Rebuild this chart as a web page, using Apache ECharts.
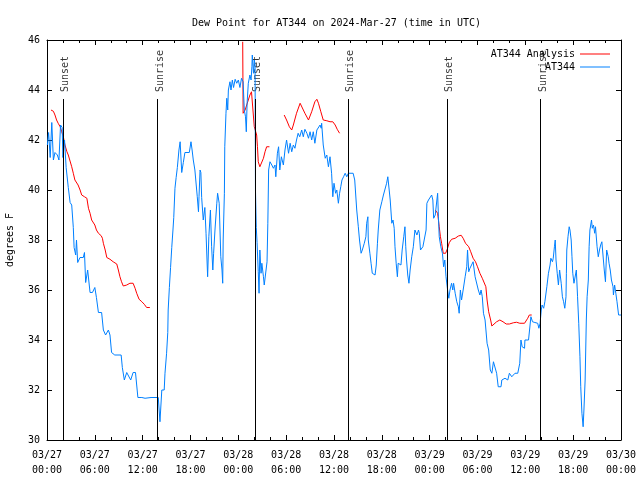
<!DOCTYPE html>
<html><head><meta charset="utf-8">
<script src="https://cdn.jsdelivr.net/npm/echarts@6/dist/echarts.min.js"></script>
<style>html,body{margin:0;padding:0;background:#fff}#c{width:640px;height:480px}</style>
</head><body><div id="c"></div>
<script>
// hours since 2024-03-27 00:00 UTC
var xTickLabels = ['03/27\n00:00','03/27\n06:00','03/27\n12:00','03/27\n18:00','03/28\n00:00','03/28\n06:00','03/28\n12:00','03/28\n18:00','03/29\n00:00','03/29\n06:00','03/29\n12:00','03/29\n18:00','03/30\n00:00'];
var sunNames = ['Sunset','Sunrise','Sunset','Sunrise','Sunset','Sunrise'];
var sunHours = [2.05, 13.85, 26.1, 37.8, 50.2, 61.9];

var at344 = [[0.05,41.8],[0.2,42.3],[0.4,41.3],[0.6,42.7],[0.8,41.2],[1.0,41.5],[1.3,41.4],[1.5,41.2],[1.7,42.6],[1.9,42.5],[2.0,41.3],[2.2,42.0],[2.4,40.9],[2.67,40.1],[2.9,39.5],[3.1,39.4],[3.3,38.5],[3.4,37.7],[3.6,37.4],[3.7,38.0],[3.85,37.1],[4.14,37.3],[4.55,37.3],[4.7,37.5],[4.85,36.3],[5.1,36.8],[5.4,35.9],[5.7,35.9],[6.0,36.1],[6.2,35.7],[6.45,35.1],[6.85,35.1],[7.07,34.4],[7.35,34.2],[7.7,34.4],[7.9,34.2],[8.1,33.5],[8.5,33.4],[9.3,33.4],[9.45,32.9],[9.7,32.4],[10.0,32.7],[10.2,32.7],[10.5,32.4],[10.8,32.7],[11.1,32.7],[11.4,31.7],[11.9,31.7],[12.3,31.67],[13.05,31.7],[13.96,31.7],[14.17,30.73],[14.4,32.0],[14.7,32.0],[14.8,32.67],[15.0,33.47],[15.15,34.3],[15.2,35.2],[15.35,36.1],[15.5,36.9],[15.65,37.7],[15.8,38.4],[15.9,38.9],[16.05,40.07],[16.2,40.5],[16.35,40.9],[16.55,41.6],[16.7,41.93],[16.9,40.7],[17.1,41.1],[17.3,41.5],[17.5,41.5],[17.85,41.5],[18.06,41.93],[18.2,41.6],[18.35,41.2],[18.55,40.8],[18.7,40.75],[18.85,39.73],[19.0,39.13],[19.07,39.73],[19.2,40.8],[19.3,40.7],[19.4,39.7],[19.6,38.8],[19.8,39.3],[19.95,38.27],[20.07,37.2],[20.15,36.53],[20.3,38.13],[20.5,39.2],[20.65,37.73],[20.8,36.8],[20.9,37.47],[21.07,38.4],[21.3,39.47],[21.4,39.87],[21.6,39.47],[21.7,38.4],[21.8,37.33],[21.95,36.8],[22.04,36.27],[22.1,38.0],[22.25,39.87],[22.3,41.73],[22.45,43.07],[22.55,43.67],[22.67,43.2],[22.75,44.0],[22.95,44.33],[23.08,44.0],[23.25,44.4],[23.4,44.1],[23.6,44.43],[23.8,44.27],[24.0,44.4],[24.2,44.1],[24.4,44.47],[24.6,44.33],[24.75,43.2],[24.9,42.93],[25.0,42.33],[25.1,43.47],[25.25,44.27],[25.45,44.6],[25.6,44.4],[25.7,44.93],[25.75,45.4],[25.9,44.67],[26.0,45.2],[26.1,45.0],[26.15,40.0],[26.25,38.5],[26.35,37.9],[26.5,36.73],[26.6,35.87],[26.7,37.6],[26.85,36.67],[26.95,37.07],[27.15,36.53],[27.25,36.2],[27.5,36.27],[27.6,37.13],[27.7,38.67],[27.8,40.8],[27.97,41.13],[28.2,41.0],[28.4,40.87],[28.6,41.0],[28.7,40.53],[28.9,41.47],[29.05,41.73],[29.2,40.8],[29.4,41.33],[29.65,41.0],[29.85,41.6],[30.05,42.0],[30.3,41.47],[30.5,41.87],[30.7,41.53],[30.9,41.8],[31.1,41.67],[31.3,42.0],[31.5,42.27],[31.7,42.13],[31.95,42.4],[32.15,42.13],[32.35,42.43],[32.6,42.27],[32.8,42.07],[33.0,42.33],[33.2,42.0],[33.4,42.33],[33.6,41.87],[33.85,42.4],[34.05,42.47],[34.25,42.6],[34.4,42.47],[34.45,42.67],[34.65,41.8],[34.9,41.27],[35.1,41.4],[35.3,40.93],[35.5,41.33],[35.7,40.67],[35.85,39.73],[36.0,40.27],[36.2,39.87],[36.35,40.0],[36.55,39.47],[36.7,39.87],[36.85,40.13],[37.0,40.4],[37.2,40.53],[37.4,40.67],[37.6,40.53],[37.8,40.67],[38.0,40.7],[38.4,40.67],[38.6,40.4],[38.85,39.2],[39.05,38.53],[39.2,38.0],[39.4,37.47],[39.55,37.6],[39.8,37.87],[40.0,38.13],[40.1,38.67],[40.25,38.93],[40.3,38.0],[40.5,37.47],[40.65,37.07],[40.8,36.67],[41.15,36.6],[41.3,37.0],[41.45,37.87],[41.55,38.4],[41.75,39.2],[42.0,39.53],[42.2,39.8],[42.4,39.87],[42.6,40.27],[42.75,40.53],[42.95,40.53],[43.05,39.6],[43.25,38.67],[43.4,38.8],[43.55,38.47],[43.65,37.73],[43.8,37.07],[43.95,36.53],[44.05,37.07],[44.3,37.13],[44.4,37.0],[44.55,37.6],[44.75,38.13],[44.9,38.53],[45.0,37.73],[45.1,37.2],[45.25,36.6],[45.4,36.27],[45.55,36.8],[45.75,37.33],[45.95,37.73],[46.15,38.4],[46.4,38.2],[46.6,38.4],[46.7,38.27],[46.85,37.6],[47.0,37.53],[47.15,37.73],[47.4,37.73],[47.55,38.4],[47.65,39.47],[47.85,39.6],[48.05,39.67],[48.25,39.8],[48.4,39.6],[48.5,38.87],[48.7,39.0],[48.9,38.93],[49.0,39.87],[49.1,38.93],[49.2,38.13],[49.4,37.73],[49.6,37.47],[49.75,36.93],[49.9,37.2],[50.05,36.53],[50.25,36.0],[50.4,35.67],[50.55,36.0],[50.75,36.27],[50.9,36.0],[51.0,36.27],[51.2,35.87],[51.4,35.53],[51.6,35.33],[51.7,35.07],[51.85,36.0],[52.0,35.6],[52.2,36.0],[52.45,36.53],[52.65,36.93],[52.75,37.6],[52.9,36.73],[53.05,36.87],[53.25,37.0],[53.45,37.13],[53.7,36.53],[53.9,36.6],[54.1,36.0],[54.3,35.8],[54.45,36.0],[54.6,35.73],[54.75,35.07],[54.95,34.8],[55.2,33.87],[55.4,33.6],[55.6,32.8],[55.8,32.67],[56.0,33.13],[56.2,33.13],[56.4,32.67],[56.6,32.13],[56.95,32.13],[57.05,32.4],[57.45,32.47],[57.8,32.4],[58.0,32.67],[58.3,32.53],[58.5,32.47],[58.7,32.67],[59.05,32.67],[59.25,32.67],[59.3,33.07],[59.45,34.0],[59.6,33.73],[59.9,33.67],[59.95,34.0],[60.4,34.0],[60.6,34.0],[60.7,34.93],[60.9,34.73],[61.2,34.7],[61.55,34.67],[61.7,34.47],[61.85,34.67],[62.0,35.2],[62.1,35.4],[62.3,35.27],[62.45,35.53],[62.7,36.13],[62.9,36.67],[63.1,37.0],[63.2,37.27],[63.4,37.13],[63.5,37.27],[63.65,37.73],[63.75,38.0],[63.85,37.2],[64.0,36.67],[64.15,36.2],[64.3,36.8],[64.5,36.27],[64.65,35.73],[64.8,35.53],[64.95,35.27],[65.1,35.73],[65.15,36.67],[65.2,37.6],[65.35,38.13],[65.5,38.53],[65.6,38.4],[65.75,38.0],[65.85,37.33],[65.95,36.67],[66.1,36.27],[66.3,36.33],[66.4,36.8],[66.55,35.73],[66.7,34.67],[66.85,33.33],[66.95,32.13],[67.1,31.07],[67.25,30.53],[67.35,31.2],[67.5,32.4],[67.65,34.8],[67.75,35.73],[67.9,36.4],[68.0,37.73],[68.1,38.4],[68.3,38.8],[68.4,38.47],[68.55,38.6],[68.7,38.27],[68.8,38.53],[69.0,37.73],[69.15,37.33],[69.3,37.6],[69.45,37.8],[69.6,37.93],[69.8,37.93],[69.9,36.8],[70.05,36.33],[70.2,37.6],[70.4,37.33],[70.5,37.07],[70.65,36.8],[70.8,36.4],[71.0,36.13],[71.05,35.8],[71.2,36.2],[71.35,35.87],[71.5,35.53],[71.6,35.47],[71.7,35.0],[72.0,35.0]];

var analysisA = [[0.5,43.2],[0.8,43.15],[1.0,43.0],[1.2,42.8],[1.4,42.67],[1.65,42.53],[1.85,42.33],[2.05,42.13],[2.25,41.8],[2.5,41.53],[2.67,41.4],[2.9,41.33],[3.1,40.93],[3.3,40.67],[3.5,40.4],[3.7,40.33],[3.9,40.2],[4.15,40.0],[4.35,39.8],[4.7,39.73],[5.0,39.67],[5.2,39.27],[5.4,39.07],[5.6,38.8],[5.8,38.73],[6.0,38.6],[6.2,38.4],[6.45,38.27],[6.8,38.17],[6.95,38.07],[7.07,37.87],[7.3,37.6],[7.5,37.3],[7.9,37.23],[8.3,37.13],[8.75,37.04],[8.95,36.8],[9.15,36.53],[9.35,36.33],[9.57,36.16],[10.0,36.2],[10.4,36.27],[10.8,36.27],[11.05,36.07],[11.25,35.87],[11.55,35.63],[11.9,35.53],[12.2,35.43],[12.5,35.3],[12.9,35.3]];
var analysisB = [[24.55,45.93],[24.6,43.07],[24.85,43.2],[25.05,43.27],[25.25,43.6],[25.45,43.8],[25.65,43.93],[25.85,43.93],[26.0,42.53],[26.3,42.2],[26.4,41.73],[26.5,41.13],[26.7,40.93],[26.9,40.93],[27.15,41.27],[27.35,41.53],[27.55,41.73],[27.9,41.73]];
var analysisC = [[29.75,43.0],[30.05,42.8],[30.4,42.53],[30.7,42.4],[30.9,42.6],[31.3,43.07],[31.75,43.47],[31.95,43.4],[32.35,43.07],[32.8,42.8],[33.2,43.13],[33.6,43.53],[33.85,43.63],[34.05,43.47],[34.35,43.13],[34.65,42.8],[35.1,42.77],[35.5,42.73],[35.85,42.73],[36.15,42.6],[36.4,42.43],[36.7,42.27]];
var analysisD = [[48.7,39.2],[49.0,39.07],[49.2,38.53],[49.35,38.13],[49.5,37.87],[49.7,37.47],[50.0,37.47],[50.25,37.67],[50.45,37.89],[50.75,38.03],[51.2,38.07],[51.6,38.16],[51.95,38.19],[52.2,38.07],[52.5,37.87],[52.9,37.73],[53.15,37.53],[53.45,37.27],[53.75,37.13],[54.0,36.93],[54.3,36.67],[54.6,36.47],[54.85,36.4],[55.05,36.13],[55.2,35.6],[55.4,35.13],[55.65,34.8],[55.8,34.56],[56.0,34.56],[56.4,34.73],[56.8,34.8],[57.2,34.73],[57.6,34.64],[58.0,34.64],[58.5,34.69],[58.9,34.71],[59.3,34.67],[59.9,34.67],[60.05,34.7],[60.3,34.87],[60.5,35.0],[60.8,35.0]];

var FONT = 'DejaVu Sans Mono';
var yMin = 30, yMax = 46, sunLineTop = 43.64, sunLabelAt = 43.9;

// join the analysis segments with gap markers so the line breaks between them
var analysis = analysisA.concat([[13, '-']], analysisB, [[28, '-']], analysisC, [[40, '-']], analysisD);

var sunLines = sunHours.map(function (h) { return [{ coord: [h, sunLineTop] }, { coord: [h, yMin] }]; });
var sunLabels = sunHours.map(function (h, i) { return { name: sunNames[i], value: [h, sunLabelAt] }; });

var baseX = {
  type: 'value', min: 0, max: 72, interval: 6,
  axisLine: { show: true, onZero: false, lineStyle: { color: '#000', width: 1 } },
  axisTick: { show: true, inside: true, length: 5, lineStyle: { color: '#000' } },
  minorTick: { show: true, splitNumber: 3, length: 3, lineStyle: { color: '#000' } },
  splitLine: { show: false }, minorSplitLine: { show: false }
};
var baseY = {
  type: 'value', min: yMin, max: yMax, interval: 2,
  axisLine: { show: true, onZero: false, lineStyle: { color: '#000', width: 1 } },
  axisTick: { show: true, inside: true, length: 5, lineStyle: { color: '#000' } },
  splitLine: { show: false }
};

var chart = echarts.init(document.getElementById('c'), null, { renderer: 'canvas' });
chart.setOption({
  animation: false,
  backgroundColor: '#fff',
  textStyle: { fontFamily: FONT },
  title: {
    text: 'Dew Point for AT344 on 2024-Mar-27 (time in UTC)',
    left: 187, top: 13,
    textStyle: { fontFamily: FONT, fontSize: 10, fontWeight: 'normal', color: '#000' }
  },
  legend: [
    { data: ['AT344 Analysis'], right: 25, top: 44, align: 'right', icon: 'rect', itemWidth: 30, itemHeight: 1, selectedMode: false,
      textStyle: { fontFamily: FONT, fontSize: 10, color: '#000' } },
    { data: ['AT344'], right: 25, top: 57, align: 'right', icon: 'rect', itemWidth: 30, itemHeight: 1, selectedMode: false,
      textStyle: { fontFamily: FONT, fontSize: 10, color: '#000' } }
  ],
  grid: { left: 47, right: 19, top: 40, bottom: 40, containLabel: false, outerBoundsMode: 'none' },
  xAxis: [
    Object.assign({}, baseX, { position: 'bottom',
      axisLabel: { show: true, fontFamily: FONT, fontSize: 10, color: '#000', lineHeight: 15, margin: 8,
        formatter: function (v) { return xTickLabels[Math.round(v / 6)]; } } }),
    Object.assign({}, baseX, { position: 'top', axisLabel: { show: false } })
  ],
  yAxis: [
    Object.assign({}, baseY, { position: 'left', name: 'degrees F', nameLocation: 'middle', nameGap: 32, nameRotate: 90,
      nameTextStyle: { fontFamily: FONT, fontSize: 10, color: '#000' },
      axisLabel: { show: true, fontFamily: FONT, fontSize: 10, color: '#000', margin: 7 } }),
    Object.assign({}, baseY, { position: 'right', axisLabel: { show: false } })
  ],
  series: [
    { name: 'sun', type: 'scatter', xAxisIndex: 0, yAxisIndex: 0, symbolSize: 1, silent: true,
      itemStyle: { color: 'rgba(0,0,0,0)' },
      data: sunLabels,
      label: { show: true, position: [3, 0], rotate: 90, align: 'left', verticalAlign: 'middle',
        formatter: function (p) { return p.name; }, fontFamily: FONT, fontSize: 10, color: '#000' },
      markLine: { silent: true, symbol: ['none', 'none'], label: { show: false },
        lineStyle: { color: '#000', width: 1, type: 'solid' }, data: sunLines }
    },
    { name: 'AT344 Analysis', type: 'line', xAxisIndex: 0, yAxisIndex: 0, data: analysis, showSymbol: false, symbol: 'none',
      connectNulls: false, lineStyle: { color: '#ff0000', width: 1 }, itemStyle: { color: '#ff0000' } },
    { name: 'AT344', type: 'line', xAxisIndex: 0, yAxisIndex: 0, data: at344, showSymbol: false, symbol: 'none',
      lineStyle: { color: '#0080ff', width: 1 }, itemStyle: { color: '#0080ff' } }
  ]
});
</script></body></html>
